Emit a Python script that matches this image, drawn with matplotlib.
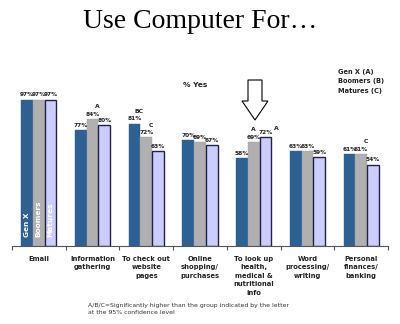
import matplotlib.pyplot as plt
import numpy as np
from matplotlib.patches import Polygon

# data
categories = ["Email", "Information\ngathering", "To check out\nwebsite\npages",
              "Online\nshopping/\npurchases", "To look up\nhealth,\nmedical &\nnutritional\ninfo",
              "Word\nprocessing/\nwriting", "Personal\nfinances/\nbanking"]
genx = [97, 77, 81, 70, 58, 63, 61]
boomers = [97, 84, 72, 69, 69, 63, 61]
matures = [97, 80, 63, 67, 72, 59, 54]
series_names = ["Gen X", "Boomers", "Matures"]
legend_lines = ["Gen X (A)", "Boomers (B)", "Matures (C)"]
# significance letters: (category index, series index, letter)
sig_letters = [(1, 1, "A"), (2, 0, "BC"), (2, 1, "C"), (4, 1, "A"), (4, 2, "A"), (6, 1, "C")]

colors = ["#2D6093", "#B0B0B0", "#CCCCFF"]
edges = ["#2D6093", "#A0A0A0", "#222244"]

fig = plt.figure(figsize=(4.0, 3.24), dpi=100)
ax = fig.add_axes([0.03, 0.2407, 0.94, 0.5432])

x = np.arange(len(categories))
w = 0.218
values = [genx, boomers, matures]
for i, vals in enumerate(values):
    xs = x + (i - 1) * w
    ax.bar(xs, vals, width=w, color=colors[i], edgecolor=edges[i],
           linewidth=1.0 if i == 2 else 0.3, zorder=2)
    for xv, v in zip(xs, vals):
        ax.text(xv, v + 1.5, f"{v}%", ha="center", va="bottom",
                fontsize=4.2, fontweight="bold", color="#222222")

for ci, si, letter in sig_letters:
    xv = ci + (si - 1) * w
    v = values[si][ci]
    if si == 2:
        # superscript to the right of the label
        ax.text(xv + 0.15, v + 4.0, letter, ha="left", va="bottom",
                fontsize=4.4, fontweight="bold", color="#222222")
    elif ci == 4:
        ax.text(xv, v + 6.5, letter, ha="center", va="bottom",
                fontsize=4.4, fontweight="bold", color="#222222")
    else:
        ax.text(xv + 0.09, v + 6.5, letter, ha="center", va="bottom",
                fontsize=4.4, fontweight="bold", color="#222222")

# series names inside the email bars
for i, name in enumerate(series_names):
    ax.text((i - 1) * w, 6, name, rotation=90, ha="center", va="bottom",
            fontsize=5.3, fontweight="bold", color="white", zorder=3)

ax.set_xlim(-0.5, len(categories) - 0.5)
ax.set_ylim(0, 116.6)
ax.set_yticks([])
ax.set_xticks(np.arange(len(categories) + 1) - 0.5)
ax.set_xticklabels([])
ax.tick_params(axis="x", length=3, width=0.8, color="#555555")
for s in ["top", "right", "left"]:
    ax.spines[s].set_visible(False)
ax.spines["bottom"].set_color("#555555")
ax.spines["bottom"].set_linewidth(0.8)

for xi, lab in zip(x, categories):
    ax.text(xi, -6.5, lab, ha="center", va="top", fontsize=4.9, fontweight="bold",
            color="#222222", linespacing=1.5)

fig.text(0.5, 0.935, "Use Computer For…", ha="center", va="center",
         fontsize=20, family="Liberation Serif", color="black")
fig.text(0.488, 0.738, "% Yes", ha="center", va="center", fontsize=5.4,
         fontweight="bold", color="#222222")
for k, line in enumerate(legend_lines):
    fig.text(0.845, 0.778 - k * 0.029, line, ha="left", va="center",
             fontsize=4.8, fontweight="bold", color="#222222")

fig.text(0.22, 0.046, "A/B/C=Significantly higher than the group indicated by the letter\n"
         "at the 95% confidence level", ha="left", va="center", fontsize=4.4,
         color="#333333", linespacing=1.3)

# hollow down arrow
arrow_pts = [(248, 80), (262, 80), (262, 101), (268, 101), (255, 120),
             (242, 101), (248, 101)]
arrow_fig = [(px / 400, 1 - py / 324) for px, py in arrow_pts]
fig.patches.append(Polygon(arrow_fig, closed=True, transform=fig.transFigure,
                           facecolor="white", edgecolor="black", linewidth=0.8))

fig.savefig("out.png", dpi=100)
